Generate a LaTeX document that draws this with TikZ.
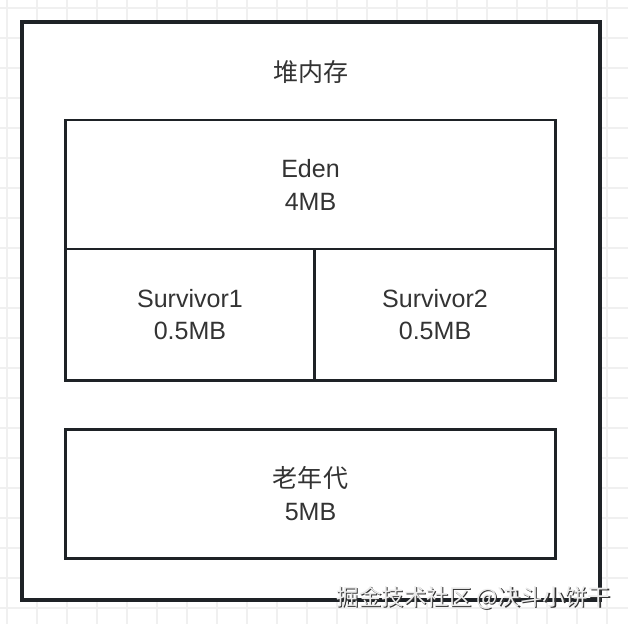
\documentclass[tikz,border=0pt]{standalone}
\usepackage{fontspec}
\setmainfont{Liberation Sans}
\newfontfamily\cjk{Noto Sans CJK SC}
\usetikzlibrary{positioning}
\definecolor{heapLine}{RGB}{30,34,38}
\definecolor{heapText}{RGB}{51,51,51}
\definecolor{heapGrid}{RGB}{240,240,240}

\begin{document}
\begin{tikzpicture}[
    x=0.025cm, y=-0.025cm,
    region/.style={draw=heapLine,line width=2.1pt,fill=white,inner sep=0pt,outer sep=0pt,align=center,text=heapText,font=\fontsize{17.8}{23.4}\selectfont},
    heading/.style={inner sep=0pt,align=center,text=heapText,font=\cjk\fontsize{17.8}{23.4}\selectfont},
    wmark/.style={inner sep=0pt,font=\cjk\fontsize{16}{16}\selectfont}
  ]
    \useasboundingbox (0,0) rectangle (628,624);
    % background grid
    \foreach \k in {0,...,20} {
      \draw[heapGrid,line width=1.1pt] (7+30*\k,0) -- (7+30*\k,624);
      \draw[heapGrid,line width=1.1pt] (0,8+30*\k) -- (628,8+30*\k);
    }
    \node[region,line width=2.5pt,minimum width=14.45cm,minimum height=14.45cm] (heap) at (311,311) {};
    \node[heading] (title) at (311,72) {堆内存};
    \node[region,minimum width=12.25cm,minimum height=3.225cm] (eden) at (310.5,184.5) {Eden\\4MB};
    \node[region,minimum width=6.225cm,minimum height=3.275cm,anchor=north west] (surv1) at (eden.south west) {Survivor1\\0.5MB};
    \node[region,minimum width=6.025cm,minimum height=3.275cm,anchor=north west] (surv2) at (surv1.north east) {Survivor2\\0.5MB};
    \node[region,minimum width=12.25cm,minimum height=3.2375cm,below=1.225cm of surv1.south west,anchor=north west] (old) {\cjk 老年代\\5MB};
    % watermark
    \node[wmark,text=black!80] (wmshadow) at (474.6,598.6) {掘金技术社区 @决斗小饼干};
    \node[wmark,text=white!92!black] (wm) at (473.5,597.5) {掘金技术社区 @决斗小饼干};
  \end{tikzpicture}
\end{document}
